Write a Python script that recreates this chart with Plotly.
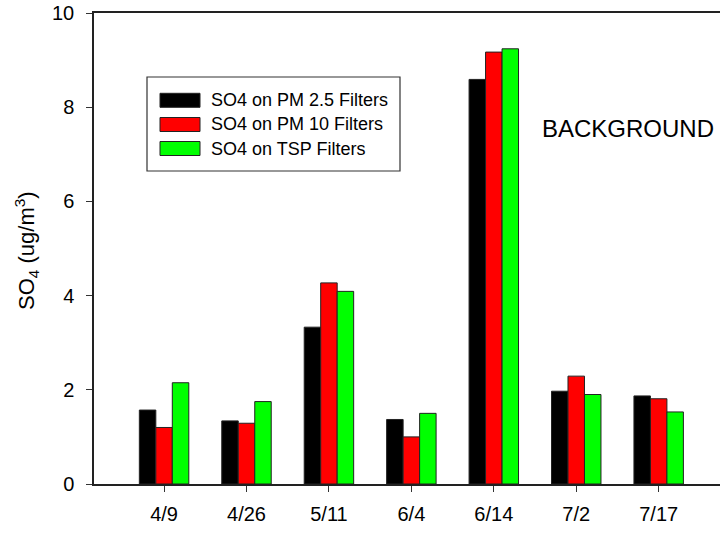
import plotly.graph_objects as go

# Sampling dates and SO4 concentrations (ug/m3) by filter type
dates = ["4/9", "4/26", "5/11", "6/4", "6/14", "7/2", "7/17"]
pm25 = [1.57, 1.34, 3.33, 1.37, 8.59, 1.97, 1.87]
pm10 = [1.20, 1.29, 4.27, 1.00, 9.17, 2.29, 1.81]
tsp = [2.15, 1.75, 4.09, 1.50, 9.24, 1.90, 1.53]

series_names = ["SO4 on PM 2.5 Filters", "SO4 on PM 10 Filters", "SO4 on TSP Filters"]
series_values = [pm25, pm10, tsp]
series_colors = ["#000000", "#ff0000", "#00ff00"]

FONT = "Liberation Sans, Arial, sans-serif"
W, H = 720, 533
L, R, T, B = 94, 0, 13, 49
PW, PH = W - L - R, H - T - B


def px(x):
    return (x - L) / PW


def py(y):
    return (H - B - y) / PH


fig = go.Figure()
for name, vals, col in zip(series_names, series_values, series_colors):
    fig.add_trace(go.Bar(
        x=list(range(len(dates))), y=vals, name=name,
        marker=dict(color=col, line=dict(color="#222222", width=1)),
        showlegend=False,
    ))

# Legend box with wide colour swatches
shapes = [dict(type="rect", xref="paper", yref="paper",
               x0=px(147), x1=px(400), y0=py(77), y1=py(171),
               line=dict(color="#333333", width=1.2), fillcolor="white")]
annotations = []
row_y = [100.3, 124.5, 148.5]
for name, col, yc in zip(series_names, series_colors, row_y):
    shapes.append(dict(type="rect", xref="paper", yref="paper",
                       x0=px(160), x1=px(200), y0=py(yc - 7), y1=py(yc + 7),
                       line=dict(color="#222222", width=1), fillcolor=col))
    annotations.append(dict(xref="paper", yref="paper", x=px(209), y=py(yc),
                            xanchor="left", yanchor="middle", showarrow=False,
                            text=name, font=dict(family=FONT, size=18, color="black")))

annotations.append(dict(xref="paper", yref="paper", x=px(628), y=py(129),
                        xanchor="center", yanchor="middle", showarrow=False,
                        text="BACKGROUND", font=dict(family=FONT, size=24, color="black")))

annotations.append(dict(xref="paper", yref="paper", x=px(26), y=py(251),
                        xanchor="center", yanchor="middle", showarrow=False, textangle=-90,
                        text="SO<sub>4</sub> (ug/m<sup>3</sup>)",
                        font=dict(family=FONT, size=22, color="black")))

fig.update_layout(
    width=W, height=H,
    margin=dict(l=L, r=R, t=T, b=B, pad=0),
    paper_bgcolor="white", plot_bgcolor="white",
    barmode="group", bargap=0.4, bargroupgap=0,
    font=dict(family=FONT, size=20, color="black"),
    shapes=shapes, annotations=annotations,
    xaxis=dict(
        range=[-0.85, 6.744], tickmode="array",
        tickvals=list(range(len(dates))), ticktext=dates,
        tickfont=dict(family=FONT, size=20, color="black"),
        showline=True, linecolor="#222222", linewidth=1.5, mirror=True,
        ticks="outside", ticklen=6, tickcolor="#333333", tickwidth=1.2,
        showgrid=False, zeroline=False, ticklabelstandoff=5,
    ),
    yaxis=dict(
        range=[0, 10], tickvals=[0, 2, 4, 6, 8, 10],
        tickfont=dict(family=FONT, size=20, color="black"),
        showline=True, linecolor="#222222", linewidth=1.5,
        ticks="outside", ticklen=6, tickcolor="#333333", tickwidth=1.2,
        showgrid=False, zeroline=False, ticklabelstandoff=8,
    ),
)

fig.write_html("out.html")
